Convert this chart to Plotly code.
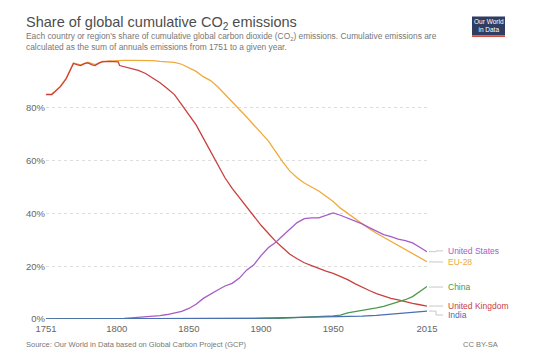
import plotly.graph_objects as go

# ---------------- data (share of global cumulative CO2, %) ----------------
uk_years = [1751, 1755, 1758, 1761, 1765, 1768, 1770, 1773, 1775, 1778, 1780, 1783, 1785, 1788,
            1790, 1795, 1801, 1802, 1805, 1810, 1815, 1820, 1825, 1830, 1835, 1840, 1845, 1850,
            1855, 1860, 1865, 1870, 1875, 1880, 1885, 1890, 1895, 1900, 1905, 1910, 1915, 1920,
            1925, 1930, 1935, 1940, 1945, 1950, 1955, 1960, 1965, 1970, 1975, 1980, 1985, 1990,
            1995, 2000, 2005, 2010, 2015]
uk_share = [85, 85, 86.5, 88, 91, 94.5, 96.8, 96.3, 96, 96.8, 97, 96.3, 96, 97,
            97.4, 97.6, 97.4, 96, 95.6, 95, 94.2, 93, 91.2, 89.5, 87.3, 85, 81.2, 77.5,
            73.5, 68.5, 63.5, 58.5, 53.5, 49.5, 46, 42.5, 39, 35.5, 32.5, 29.5, 27, 24.5,
            22.8, 21.3, 20.2, 19, 18.1, 17.3, 16.2, 14.9, 13.4, 12, 10.8, 9.6, 8.6, 7.8,
            7.2, 6.5, 5.9, 5.4, 4.9]

eu_years = [1751, 1755, 1761, 1765, 1770, 1775, 1780, 1785, 1790, 1795, 1800, 1805, 1810, 1815,
            1820, 1825, 1830, 1835, 1840, 1845, 1850, 1855, 1860, 1865, 1870, 1875, 1880, 1885,
            1890, 1895, 1900, 1905, 1910, 1915, 1920, 1925, 1930, 1935, 1940, 1945, 1950, 1955,
            1960, 1965, 1970, 1975, 1980, 1985, 1990, 1995, 2000, 2005, 2010, 2015]
eu_share = [85.2, 85.2, 88.2, 91.2, 97, 96.3, 97.3, 96.4, 97.6, 97.8, 97.9, 98, 98, 98,
            97.8, 97.9, 97.6, 97.5, 97.2, 96.5, 95.3, 93.8, 91.8, 90.3, 88, 85.2, 82, 79.3,
            76.5, 73.5, 70.5, 67.5, 63.5, 59.5, 56, 53.5, 51.5, 50, 48.5, 46.5, 44.5, 42,
            40, 38, 36, 34.2, 32.5, 31, 29.5, 28, 26.3, 24.8, 23.2, 21.7]

us_years = [1751, 1800, 1805, 1810, 1815, 1820, 1825, 1830, 1835, 1840, 1845, 1850, 1855, 1860,
            1865, 1870, 1875, 1880, 1885, 1890, 1895, 1900, 1905, 1910, 1915, 1920, 1925, 1930,
            1935, 1940, 1945, 1950, 1955, 1960, 1965, 1970, 1975, 1980, 1985, 1990, 1995, 2000,
            2005, 2010, 2015]
us_share = [0, 0, 0.2, 0.4, 0.6, 0.8, 1.0, 1.3, 1.7, 2.2, 2.9, 4.0, 5.6, 7.8,
            9.5, 11, 12.5, 13.5, 15.5, 18.5, 20.5, 24, 27, 29, 31.5, 34, 36.5, 38,
            38.3, 38.3, 39.3, 40.2, 39.3, 38.2, 37.2, 36, 34.6, 33.2, 32, 31.2, 30.3, 29.7,
            28.8, 27.2, 25.5]

china_years = [1751, 1900, 1905, 1910, 1920, 1930, 1940, 1950, 1955, 1960, 1965, 1970, 1975,
               1980, 1985, 1990, 1995, 2000, 2005, 2010, 2015]
china_share = [0, 0, 0.1, 0.2, 0.4, 0.6, 0.9, 1.2, 1.5, 2.3, 2.8, 3.2, 3.6,
               4.2, 4.8, 5.6, 6.5, 7.3, 8.5, 10.4, 12.3]

india_years = [1751, 1860, 1870, 1880, 1890, 1900, 1910, 1920, 1930, 1940, 1950, 1960, 1970,
               1980, 1990, 2000, 2010, 2015]
india_share = [0, 0, 0.05, 0.1, 0.2, 0.3, 0.4, 0.5, 0.6, 0.7, 0.8, 0.9, 1.1,
               1.4, 1.9, 2.4, 2.8, 3.0]

x_ticks = [1751, 1800, 1850, 1900, 1950, 2015]
y_ticks = [0, 20, 40, 60, 80]

series = [
    ("EU-28", eu_years, eu_share, "#efaa3a"),
    ("United Kingdom", uk_years, uk_share, "#c9403f"),
    ("United States", us_years, us_share, "#a65bc7"),
    ("China", china_years, china_share, "#4a9a4a"),
    ("India", india_years, india_share, "#4a6fb3"),
]

# label positions (in % units) next to the line ends
label_y = {"United States": 25.8, "EU-28": 21.6, "China": 12.1,
           "United Kingdom": 4.9, "India": 1.5}

W, H = 537, 361
L, R, T, B = 46, 110, 55, 42
PW, PH = W - L - R, H - T - B

def px(xp):
    return (xp - L) / PW

def py(yp):
    return (H - B - yp) / PH

FONT = "Liberation Sans, Arial, sans-serif"

fig = go.Figure()
for name, xs, ys, col in series:
    fig.add_trace(go.Scatter(x=xs, y=ys, mode="lines", name=name,
                             line=dict(color=col, width=1.3), hoverinfo="skip"))

annotations = []
shapes = []
for name, xs, ys, col in series:
    ly = label_y[name]
    annotations.append(dict(x=px(446.5), xref="paper", y=ly, yref="y", text=name,
                            showarrow=False, xanchor="left", yanchor="middle",
                            font=dict(family=FONT, size=8.5, color=col)))
    end = ys[-1]
    if abs(end - ly) < 0.3:
        shapes.append(dict(type="line", xref="paper", yref="y", x0=px(429), x1=px(443),
                           y0=ly, y1=ly, line=dict(color="#c8c8c8", width=1)))
    else:
        shapes.append(dict(type="line", xref="paper", yref="y", x0=px(429), x1=px(436),
                           y0=end, y1=end, line=dict(color="#c8c8c8", width=1)))
        shapes.append(dict(type="line", xref="paper", yref="y", x0=px(436), x1=px(436),
                           y0=end, y1=ly, line=dict(color="#c8c8c8", width=1)))
        shapes.append(dict(type="line", xref="paper", yref="y", x0=px(436), x1=px(443),
                           y0=ly, y1=ly, line=dict(color="#c8c8c8", width=1)))

# title / subtitle / footer
annotations.append(dict(x=px(24), xref="paper", y=py(23.5), yref="paper",
                        text="Share of global cumulative CO<sub>2</sub> emissions",
                        showarrow=False, xanchor="left", yanchor="middle",
                        font=dict(family=FONT, size=14.5, color="#4d4d4d")))
annotations.append(dict(x=px(24), xref="paper", y=py(41.5), yref="paper",
                        text="Each country or region's share of cumulative global carbon dioxide (CO<sub>2</sub>) emissions. Cumulative emissions are<br>calculated as the sum of annuals emissions from 1751 to a given year.",
                        showarrow=False, xanchor="left", yanchor="middle", align="left",
                        font=dict(family=FONT, size=8.4, color="#777777")))
annotations.append(dict(x=px(24), xref="paper", y=py(344), yref="paper",
                        text="Source: Our World in Data based on Global Carbon Project (GCP)",
                        showarrow=False, xanchor="left", yanchor="middle",
                        font=dict(family=FONT, size=7.5, color="#777777")))
annotations.append(dict(x=px(500), xref="paper", y=py(344), yref="paper",
                        text="CC BY-SA", showarrow=False, xanchor="right", yanchor="middle",
                        font=dict(family=FONT, size=7.5, color="#777777")))

# logo
shapes.append(dict(type="rect", xref="paper", yref="paper", x0=px(472), x1=px(505),
                   y0=py(35.2), y1=py(16.5), fillcolor="#2f3d62", line=dict(width=0)))
shapes.append(dict(type="rect", xref="paper", yref="paper", x0=px(472), x1=px(505),
                   y0=py(37), y1=py(35.2), fillcolor="#d64b3c", line=dict(width=0)))
annotations.append(dict(x=px(488.5), xref="paper", y=py(26), yref="paper",
                        text="Our World<br>in Data", showarrow=False,
                        xanchor="center", yanchor="middle", align="center",
                        font=dict(family=FONT, size=6.5, color="#ffffff")))

fig.update_layout(
    width=W, height=H,
    margin=dict(l=L, r=R, t=T, b=B, pad=0),
    paper_bgcolor="white", plot_bgcolor="white",
    showlegend=False,
    annotations=annotations, shapes=shapes,
    xaxis=dict(range=[1751, 2015], tickvals=x_ticks, ticktext=[str(v) for v in x_ticks],
               showgrid=False, zeroline=False, showline=False, ticks="", automargin=False,
               ticklabelstandoff=2,
               tickfont=dict(family=FONT, size=9.5, color="#666666")),
    yaxis=dict(range=[0, 100], tickvals=y_ticks, ticktext=[f"{v}%" for v in y_ticks],
               showgrid=True, gridcolor="#dddddd", griddash="dot", gridwidth=1,
               zeroline=False, showline=False, ticks="", automargin=False,
               tickfont=dict(family=FONT, size=9.5, color="#666666")),
)

fig.write_html("out.html", config={"displayModeBar": False},
               post_script="document.body.style.margin='0';document.body.style.overflow='hidden';")
